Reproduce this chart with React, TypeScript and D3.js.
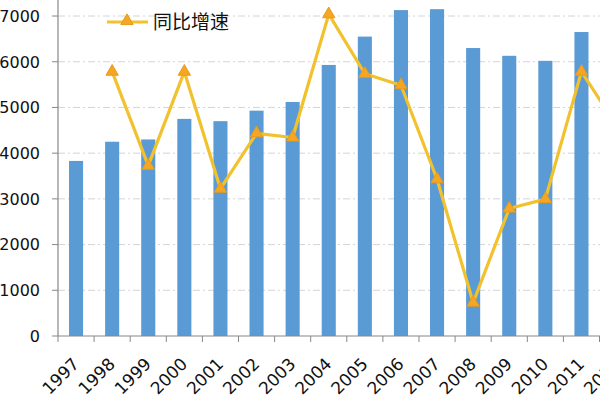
import * as d3 from "d3";

// 年度数据
const years = ["1997", "1998", "1999", "2000", "2001", "2002", "2003", "2004", "2005", "2006", "2007", "2008", "2009", "2010", "2011", "2012"];
const amounts = [3830, 4250, 4300, 4750, 4700, 4930, 5120, 5930, 6550, 7130, 7150, 6300, 6130, 6020, 6650, 7000];
// 同比增速 (%), 1997 无数据
const growth: (number | null)[] = [null, 10.3, 1.3, 10.3, -0.9, 4.4, 4.0, 15.8, 10.1, 9.0, 0.0, -11.8, -2.8, -1.9, 10.3, 5.0];
const leftTicks = [0, 1000, 2000, 3000, 4000, 5000, 6000, 7000, 8000];
const legendLabel = "同比增速";

const W = 600;
const H = 400;
const x0 = 58;
const band = 36.1;
const yBottom = 336;
const pxPerK = 45.71;

const App = () => {
  const x = d3
    .scaleBand<string>()
    .domain(years)
    .range([x0, x0 + band * years.length])
    .paddingInner(0.61)
    .paddingOuter(0.305);

  const y = d3
    .scaleLinear()
    .domain([0, 8000])
    .range([yBottom, yBottom - 8 * pxPerK]);

  const y2 = d3
    .scaleLinear()
    .domain([-15, 20])
    .range([yBottom, yBottom - 8 * pxPerK]);

  const cx = (yr: string) => (x(yr) || 0) + x.bandwidth() / 2;

  const pts = years
    .map((yr, i) => ({ yr, g: growth[i] }))
    .filter((d) => d.g !== null) as { yr: string; g: number }[];

  const line = d3
    .line<{ yr: string; g: number }>()
    .x((d) => cx(d.yr))
    .y((d) => y2(d.g));

  const tri = d3.symbol().type(d3.symbolTriangle).size(66)() || "";

  const lineColor = "#F2C12E";
  const markFill = "#F5A623";
  const markStroke = "#E89A1C";

  return (
    <svg
      width={W}
      height={H}
      style={{ position: "absolute", left: 0, top: 0, background: "#fff" }}
      fontFamily="'DejaVu Sans', sans-serif"
    >
      {/* grid */}
      {leftTicks
        .filter((t) => t > 0)
        .map((t) => (
          <line
            key={t}
            x1={x0}
            x2={W}
            y1={y(t)}
            y2={y(t)}
            stroke="#d4d4d4"
            strokeWidth={1}
            strokeDasharray="7,3,2,3"
          />
        ))}

      {/* bars */}
      {years.map((yr, i) => (
        <rect
          key={yr}
          x={x(yr)}
          y={y(amounts[i])}
          width={x.bandwidth()}
          height={yBottom - y(amounts[i])}
          fill="#5B9BD5"
        />
      ))}

      {/* axes */}
      <line x1={x0} x2={x0} y1={0} y2={yBottom} stroke="#888" strokeWidth={1.2} />
      <line x1={x0} x2={W} y1={yBottom} y2={yBottom} stroke="#888" strokeWidth={1.2} />
      {leftTicks.map((t) => (
        <g key={t}>
          <line x1={x0 - 6} x2={x0} y1={y(t)} y2={y(t)} stroke="#888" />
          <text x={40} y={y(t)} dy="0.36em" textAnchor="end" fontSize={16} fill="#111">
            {t}
          </text>
        </g>
      ))}
      {years.map((yr, i) => (
        <line
          key={yr}
          x1={x0 + band * i}
          x2={x0 + band * i}
          y1={yBottom}
          y2={yBottom + 6}
          stroke="#888"
        />
      ))}
      {years.map((yr) => (
        <text
          key={yr}
          transform={`translate(${cx(yr) - 4.4},${yBottom + 20.6}) rotate(-45)`}
          textAnchor="end"
          dy="0.7em"
          fontSize={17}
          fill="#111"
        >
          {yr}
        </text>
      ))}

      {/* growth line */}
      <path d={line(pts) || ""} fill="none" stroke={lineColor} strokeWidth={3.2} strokeLinejoin="round" />
      {pts.map((d) => (
        <path
          key={d.yr}
          d={tri}
          transform={`translate(${cx(d.yr)},${y2(d.g)})`}
          fill={markFill}
          stroke={markStroke}
          strokeWidth={1}
        />
      ))}

      {/* legend */}
      <line x1={107} x2={148} y1={22} y2={22} stroke={lineColor} strokeWidth={3.2} />
      <path d={tri} transform="translate(127,21)" fill={markFill} stroke={markStroke} strokeWidth={1} />
      <text x={153} y={29} fontSize={19} fontFamily="'Noto Sans CJK SC', sans-serif" fill="#111">
        {legendLabel}
      </text>
    </svg>
  );
};

export default App;
